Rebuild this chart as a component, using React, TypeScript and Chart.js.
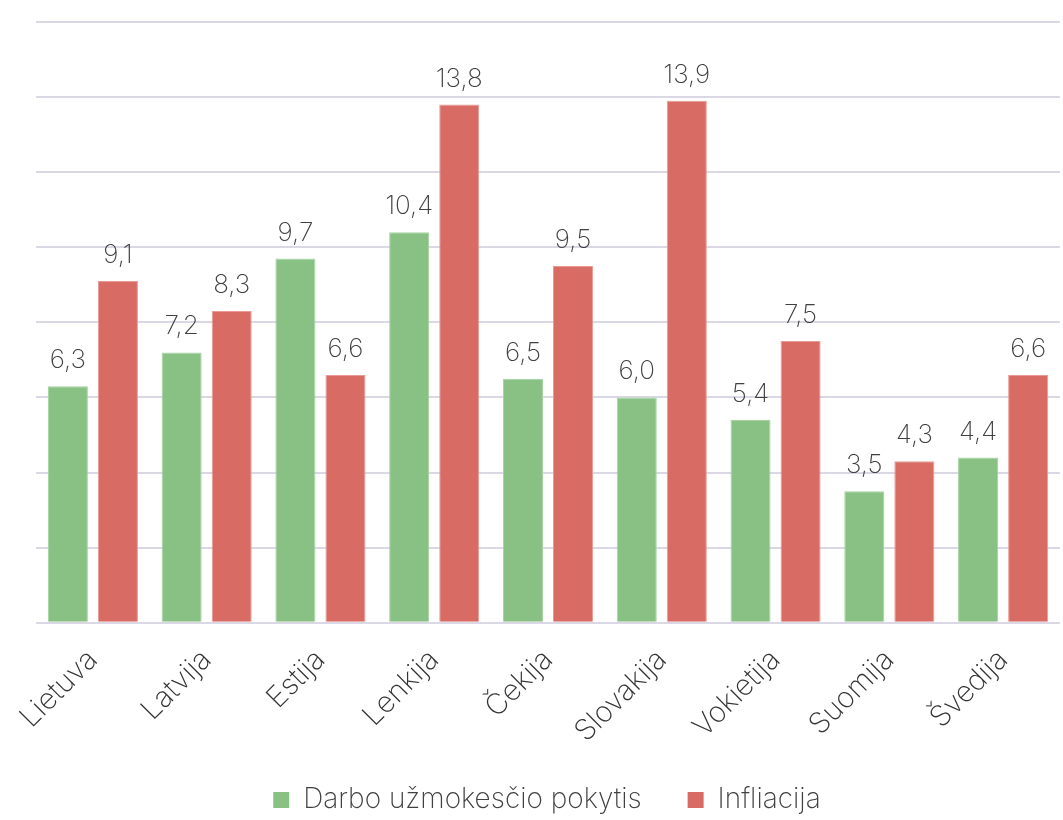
import React, { useEffect, useRef } from "react";
import { Chart, registerables } from "chart.js";

Chart.register(...registerables);

const categories = ["Lietuva", "Latvija", "Estija", "Lenkija", "Čekija", "Slovakija", "Vokietija", "Suomija", "Švedija"];
const wageChange = [6.3, 7.2, 9.7, 10.4, 6.5, 6.0, 5.4, 3.5, 4.4];
const inflation = [9.1, 8.3, 6.6, 13.8, 9.5, 13.9, 7.5, 4.3, 6.6];
const seriesNames = ["Darbo užmokesčio pokytis", "Infliacija"];
const seriesColors = ["#88c183", "#d86c64"];

const FONT = "Inter";

const valueLabels = {
  id: "valueLabels",
  afterDatasetsDraw(chart: any) {
    const ctx = chart.ctx;
    ctx.save();
    ctx.font = `200 26px ${FONT}`;
    ctx.fillStyle = "#404040";
    ctx.textAlign = "center";
    ctx.textBaseline = "alphabetic";
    chart.data.datasets.forEach((ds: any, i: number) => {
      const meta = chart.getDatasetMeta(i);
      meta.data.forEach((bar: any, j: number) => {
        const v = ds.data[j] as number;
        ctx.fillText(v.toFixed(1).replace(".", ","), bar.x, bar.y - 18);
      });
    });
    ctx.restore();
  },
};

const customLegend = {
  id: "customLegend",
  afterDraw(chart: any) {
    const ctx = chart.ctx;
    ctx.save();
    ctx.font = `200 28px ${FONT}`;
    ctx.textBaseline = "middle";
    ctx.textAlign = "left";
    const box = 16;
    const gap = 14;
    const itemGap = 46;
    const items = chart.data.datasets.map((ds: any) => ({
      label: ds.label as string,
      color: ds.backgroundColor as string,
      w: ctx.measureText(ds.label).width,
    }));
    const total = items.reduce((s: number, it: any) => s + box + gap + it.w, 0) + itemGap * (items.length - 1);
    const cy = 800;
    let x = 547 - total / 2;
    items.forEach((it: any) => {
      ctx.fillStyle = it.color;
      ctx.fillRect(x, cy - box / 2, box, box);
      x += box + gap;
      ctx.fillStyle = "#404040";
      ctx.fillText(it.label, x, cy);
      x += it.w + itemGap;
    });
    ctx.restore();
  },
};

export default function App() {
  const ref = useRef<HTMLCanvasElement>(null);
  useEffect(() => {
    const chart = new Chart(ref.current!, {
      type: "bar",
      data: {
        labels: categories,
        datasets: [
          {
            label: seriesNames[0],
            data: wageChange,
            backgroundColor: seriesColors[0],
            borderColor: "#a4d3a0",
            borderWidth: 1,
          },
          {
            label: seriesNames[1],
            data: inflation,
            backgroundColor: seriesColors[1],
            borderColor: "#e89a94",
            borderWidth: 1,
          },
        ],
      },
      options: {
        animation: false,
        responsive: false,
        maintainAspectRatio: false,
        layout: { padding: { top: 22, left: 36, right: 3, bottom: 59 } },
        datasets: {
          bar: { categoryPercentage: 0.88, barPercentage: 0.8 },
        } as any,
        scales: {
          x: {
            grid: { display: false },
            border: { display: false },
            ticks: {
              color: "#333333",
              font: { family: FONT, size: 29, weight: "200" as any },
              minRotation: 45,
              maxRotation: 45,
              padding: 12,
            },
          },
          y: {
            min: 0,
            max: 16,
            ticks: { display: false, stepSize: 2 },
            grid: { color: "#d9d8e4", lineWidth: 2, drawTicks: false },
            border: { display: false },
          },
        },
        plugins: {
          legend: { display: false },
          tooltip: { enabled: false },
          title: { display: false },
        },
      },
      plugins: [valueLabels, customLegend],
    });
    return () => chart.destroy();
  }, []);
  return (
    <div style={{ position: "fixed", left: 0, top: 0, width: 1063, height: 820, background: "#fff" }}>
      <canvas ref={ref} width={1063} height={820} style={{ width: 1063, height: 820 }} />
    </div>
  );
}
